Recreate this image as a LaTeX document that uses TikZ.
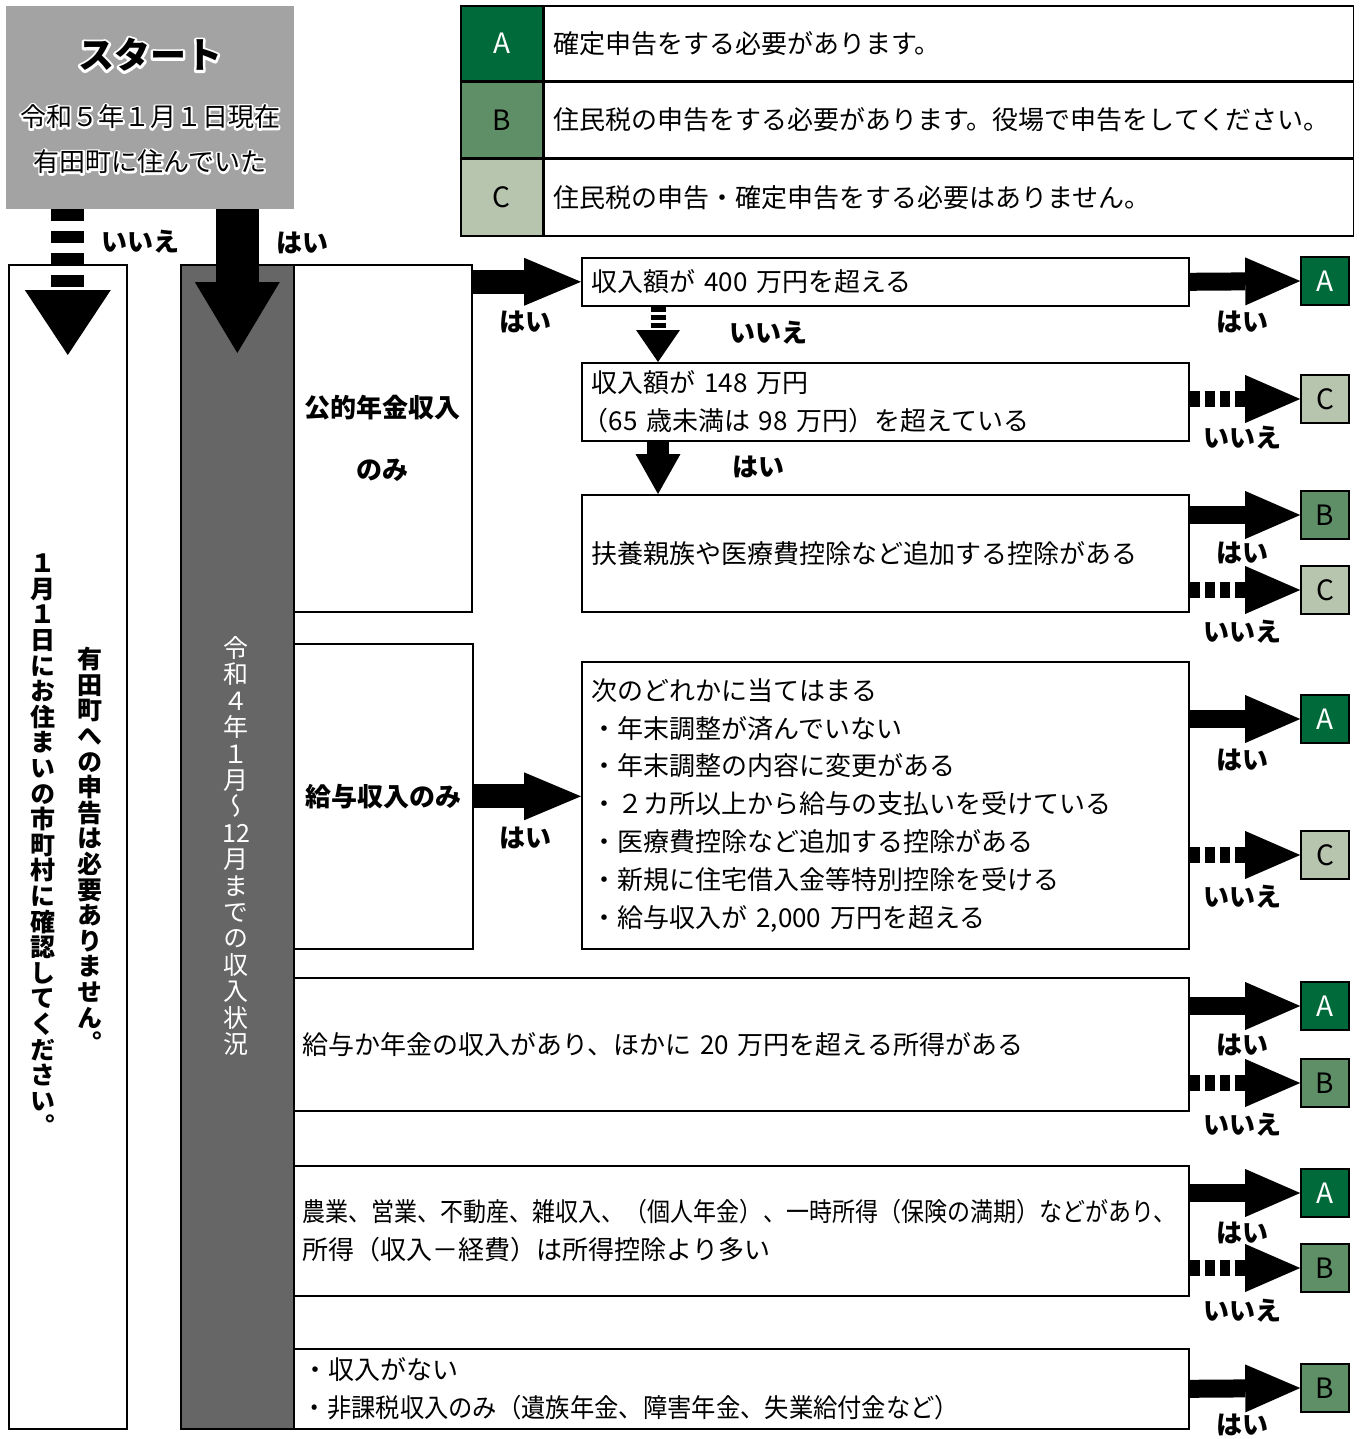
\documentclass[tikz,border=0pt]{standalone}
\usepackage{fontspec}
\setmainfont{Noto Sans CJK JP}
\newfontfamily\tatefont[RawFeature=+vert]{Noto Sans CJK JP}
\usepackage{graphicx}
\usepackage{tikz}
\usetikzlibrary{positioning, arrows.meta}

\definecolor{resA}{HTML}{006A3A}
\definecolor{resB}{HTML}{5F8F66}
\definecolor{resC}{HTML}{B7C4AE}
\definecolor{startgray}{HTML}{A3A3A3}
\definecolor{colgray}{HTML}{666666}

% white outline round a text (stroked white copy under the black one)
\newcommand\halotext[2][4]{\leavevmode
  \rlap{\color{white}\special{pdf:literal direct 2 Tr #1 w 1 J 1 j}#2\special{pdf:literal direct 0 Tr 1 w 0 J 0 j}}#2}

% vertical text, one character a line
\makeatletter
\newcommand\tate[1]{\vbox{\@tfor\tate@c:=#1\do{\hbox to 1em{\hss\tate@c\hss}}}}
\makeatother

\begin{document}
\begin{tikzpicture}[x=1pt, y=-1pt,
    base/.style={font=\fontsize{26}{37.8}\selectfont},
    box/.style={base, draw, line width=1.6pt, fill=white, inner sep=0pt, anchor=north west},
    pbox/.style={box, align=center, font=\bfseries\fontsize{26}{37.8}\selectfont},
    wbox/.style={box, minimum width=895pt, text width=877pt, inner xsep=9pt, align=left},
    qbox/.style={box, minimum width=607pt, text width=587pt, inner xsep=10pt, align=left},
    res/.style={draw, line width=1.6pt, minimum size=48pt, inner sep=0pt, font=\fontsize{28}{30}\selectfont},
    legkey/.style={res, minimum width=82pt, minimum height=75pt, anchor=north west},
    legtext/.style={base, draw, line width=1.6pt, minimum width=809pt, text width=791pt,
      inner xsep=9pt, minimum height=75pt, align=left},
    lab/.style={font=\bfseries\fontsize{26}{30}\selectfont},
    tatebox/.style={inner sep=0pt, font=\tatefont\fontsize{25}{25.6}\selectfont},
    yesarrow/.style={line width=18pt, -{Triangle[length=55pt, width=48pt, line width=0pt]}},
    noarrow/.style={yesarrow, line width=16pt, dash pattern=on 10pt off 5pt},
  ]
  \useasboundingbox (0,0) rectangle (1359,1439);

  % start
  \node[anchor=north west, fill=startgray, minimum width=288pt, minimum height=203pt] (start) at (6,6) {};
  \node[font=\bfseries\fontsize{36}{40}\selectfont] (starttitle) at (150,55) {\halotext[5]{スタート}};
  \node[base] (startline1) at (150,117) {\halotext{令和５年１月１日現在}};
  \node[base] (startline2) at (150,162) {\halotext{有田町に住んでいた}};

  % legend
  \node[legkey, fill=resA, text=white] (keyA) at (460,5) {A};
  \node[legtext, right=0pt of keyA] (txtA) {確定申告をする必要があります。};
  \node[legkey, fill=resB, below=0pt of keyA] (keyB) {B};
  \node[legtext, right=0pt of keyB] (txtB) {住民税の申告をする必要があります。役場で申告をしてください。};
  \node[legkey, fill=resC, minimum height=77pt, below=0pt of keyB] (keyC) {C};
  \node[legtext, minimum height=77pt, right=0pt of keyC] (txtC) {住民税の申告・確定申告をする必要はありません。};

  % columns
  \node[box, minimum width=118pt, minimum height=1164pt] (outside) at (8,264) {};
  \node[box, fill=colgray, minimum width=113pt, minimum height=1164pt] (income) at (180,264) {};
  \node[tatebox, font=\tatefont\bfseries\fontsize{25}{25.6}\selectfont] (outnote1) at (90,850)
    {\tate{有田町への申告は必要ありません。}};
  \node[tatebox, font=\tatefont\bfseries\fontsize{25}{25.6}\selectfont] (outnote2) at (43,845)
    {\tate{１月１日にお住まいの市町村に確認してください。}};
  \node[tatebox, text=white, font=\tatefont\fontsize{25}{26.4}\selectfont] (period) at (236,846)
    {\tate{令和４年１月～{12}月までの収入状況}};

  % income kinds
  \node[pbox, minimum width=178pt, minimum height=347pt] (pension) at (293,264) {公的年金収入\\[25pt]のみ};
  \node[pbox, minimum width=179pt, minimum height=305pt] (salary) at (293,643) {給与収入のみ};
  \node[wbox, minimum height=133pt] (other) at (293,977) {給与か年金の収入があり、ほかに 20 万円を超える所得がある};
  \node[wbox, minimum height=130pt] (business) at (293,1165)
    {\scalebox{0.885}[1]{農業、営業、不動産、雑収入、（個人年金）、一時所得（保険の満期）などがあり、}\\
     所得（収入－経費）は所得控除より多い};
  \node[wbox, minimum height=80pt] (none) at (293,1348)
    {・収入がない\\ \scalebox{0.935}[1]{・非課税収入のみ（遺族年金、障害年金、失業給付金など）}};

  % questions
  \node[qbox, minimum height=48pt] (over400) at (581,257) {収入額が 400 万円を超える};
  \node[qbox, minimum height=78pt] (over148) at (581,362) {収入額が 148 万円\\\hspace*{-9pt}（65 歳未満は 98 万円）を超えている};
  \node[qbox, minimum height=117pt] (deduct) at (581,494) {扶養親族や医療費控除など追加する控除がある};
  \node[qbox, minimum height=287pt] (anyof) at (581,661)
    {次のどれかに当てはまる\\
     ・年末調整が済んでいない\\
     ・年末調整の内容に変更がある\\
     ・２カ所以上から給与の支払いを受けている\\
     ・医療費控除など追加する控除がある\\
     ・新規に住宅借入金等特別控除を受ける\\
     ・給与収入が 2,000 万円を超える};

  % results
  \node[res, fill=resA, text=white] (rA1) at (1325,281) {A};
  \node[res, fill=resC] (rC1) at (1325,399) {C};
  \node[res, fill=resB] (rB1) at (1325,515) {B};
  \node[res, fill=resC] (rC2) at (1325,590) {C};
  \node[res, fill=resA, text=white] (rA2) at (1325,719) {A};
  \node[res, fill=resC] (rC3) at (1325,855) {C};
  \node[res, fill=resA, text=white] (rA3) at (1325,1006) {A};
  \node[res, fill=resB] (rB2) at (1325,1083) {B};
  \node[res, fill=resA, text=white] (rA4) at (1325,1193) {A};
  \node[res, fill=resB] (rB3) at (1325,1268) {B};
  \node[res, fill=resB] (rB4) at (1325,1388) {B};

  % arrows from start
  \draw[line width=33pt, dash pattern=on 12pt off 10pt, -{Triangle[length=65pt, width=86pt, line width=0pt]}]
    (start.south -| outside.north) -- ([yshift=-91pt]outside.north);
  \draw[line width=43pt, -{Triangle[length=71pt, width=85pt, line width=0pt]}]
    (start.south -| income.north) -- ([yshift=-89pt]income.north);
  \node[lab] (noStart) at (140,242) {いいえ};
  \node[lab] (yesStart) at (302,243) {はい};

  % arrows into the questions
  \draw[line width=24pt, -{Triangle[length=57pt, width=48pt, line width=0pt]}] (pension.east |- over400.west) -- (over400.west);
  \draw[line width=24pt, -{Triangle[length=57pt, width=48pt, line width=0pt]}] (salary.east) -- (salary.east -| anyof.west);
  \draw[line width=15pt, dash pattern=on 5pt off 3pt, -{Triangle[length=32pt, width=44pt, line width=0pt]}]
    ([xshift=77pt]over400.south west) -- ([xshift=77pt]over148.north west);
  \draw[line width=22pt, -{Triangle[length=40pt, width=45pt, line width=0pt]}]
    ([xshift=77pt]over148.south west) -- ([xshift=77pt]deduct.north west);
  \node[lab] (yesPension) at (525,322) {はい};
  \node[lab] (yesSalary) at (525,838) {はい};
  \node[lab] (no400) at (768,333) {いいえ};
  \node[lab] (yes148) at (758,467) {はい};

  % arrows to the results
  \draw[yesarrow] (over400.east) -- (rA1.west);
  \draw[noarrow] (rC1.west -| over148.east) -- (rC1.west);
  \draw[yesarrow] (rB1.west -| deduct.east) -- (rB1.west);
  \draw[noarrow] (rC2.west -| deduct.east) -- (rC2.west);
  \draw[yesarrow] (rA2.west -| anyof.east) -- (rA2.west);
  \draw[noarrow] (rC3.west -| anyof.east) -- (rC3.west);
  \draw[yesarrow] (rA3.west -| other.east) -- (rA3.west);
  \draw[noarrow] (rB2.west -| other.east) -- (rB2.west);
  \draw[yesarrow] (rA4.west -| business.east) -- (rA4.west);
  \draw[noarrow] (rB3.west -| business.east) -- (rB3.west);
  \draw[yesarrow] (none.east) -- (rB4.west);

  \node[lab] (yes1) at (1242,322) {はい};
  \node[lab] (no1) at (1242,438) {いいえ};
  \node[lab] (yes2) at (1242,553) {はい};
  \node[lab] (no2) at (1242,632) {いいえ};
  \node[lab] (yes3) at (1242,760) {はい};
  \node[lab] (no3) at (1242,897) {いいえ};
  \node[lab] (yes4) at (1242,1045) {はい};
  \node[lab] (no4) at (1242,1125) {いいえ};
  \node[lab] (yes5) at (1242,1233) {はい};
  \node[lab] (no5) at (1242,1311) {いいえ};
  \node[lab] (yes6) at (1242,1425) {はい};
\end{tikzpicture}
\end{document}
